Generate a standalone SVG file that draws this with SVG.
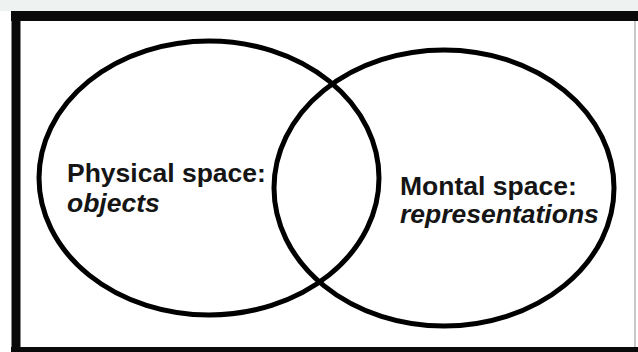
<svg xmlns="http://www.w3.org/2000/svg" width="638" height="352" viewBox="0 0 638 352">
  <style>
    .frame { fill: none; stroke: #0a0a0a; }
    .set { fill: none; stroke: #000; stroke-width: 5; }
    .lbl { font-family: "Liberation Sans", Arial, sans-serif; font-weight: bold; fill: #151515; font-size: 26.5px; }
    .it { font-style: italic; }
  </style>
  <rect x="0" y="0" width="638" height="352" fill="#ffffff"/>
  <rect x="0" y="0" width="638" height="11" fill="#eef2f1"/>
  <g id="frame">
    <line class="frame" x1="11" y1="16" x2="638" y2="16" stroke-width="10"/>
    <line class="frame" x1="16" y1="11" x2="16" y2="352" stroke-width="9"/>
    <line class="frame" x1="11" y1="350" x2="638" y2="350" stroke-width="6"/>
    <line x1="635" y1="21" x2="635" y2="347" stroke="#c8c8c8" stroke-width="2"/>
  </g>
  <g id="physical">
    <ellipse class="set" cx="209" cy="178" rx="170" ry="137"/>
    <text class="lbl" x="67" y="182">Physical space:</text>
    <text class="lbl it" x="67" y="212">objects</text>
  </g>
  <g id="mental">
    <ellipse class="set" cx="444" cy="188" rx="170" ry="138"/>
    <text class="lbl" x="400" y="195">Montal space:</text>
    <text class="lbl it" x="400" y="223">representations</text>
  </g>
</svg>
